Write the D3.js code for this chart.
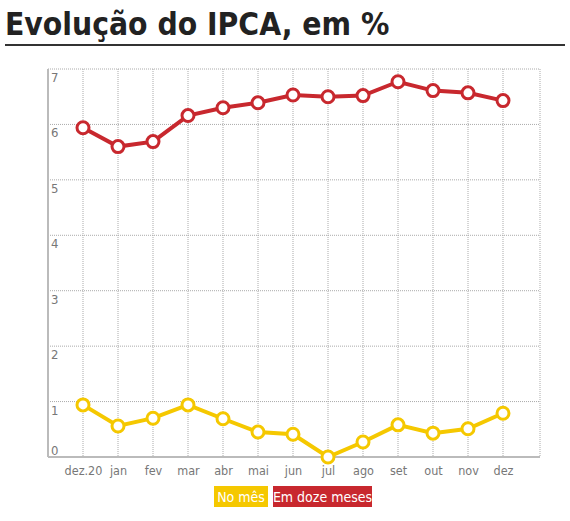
<!DOCTYPE html><html><head><meta charset="utf-8">
<script src="https://d3js.org/d3.v7.min.js"></script>
<style>body{margin:0;background:#fff}</style></head><body>
<svg id="c" width="570" height="521"></svg>
<script>
const categories=["dez.20","jan","fev","mar","abr","mai","jun","jul","ago","set","out","nov","dez"];
const noMes=[0.94,0.56,0.70,0.94,0.69,0.45,0.41,0.0,0.27,0.58,0.43,0.51,0.79];
const dozeMeses=[5.94,5.60,5.69,6.16,6.30,6.39,6.53,6.50,6.52,6.77,6.61,6.57,6.43];
const yTicks=[0,1,2,3,4,5,6,7];
const svg=d3.select("#c");
const font="'DejaVu Sans Condensed','Open Sans',sans-serif";
svg.append("text").attr("x",5).attr("y",35).text("Evolução do IPCA, em %")
 .attr("font-family",font).attr("font-weight","bold").attr("font-size",31.5).attr("fill","#222");
svg.append("line").attr("x1",5).attr("x2",565).attr("y1",45).attr("y2",45).attr("stroke","#333").attr("stroke-width",2);
const L=48,R=540,T=69,B=457;
const x=d3.scalePoint().domain(categories).range([83,503]);
const y=d3.scaleLinear().domain([0,7]).range([B,T]);
const g=svg.append("g");
yTicks.forEach(t=>{g.append("line").attr("x1",L).attr("x2",R).attr("y1",y(t)).attr("y2",y(t)).attr("stroke","#aaa").attr("stroke-dasharray","1,1");
 g.append("text").attr("x",L+3).attr("y",y(t)+(t==0?-2:13)).text(t).attr("font-family",font).attr("font-size",13).attr("fill","#777");});
categories.forEach(c=>g.append("line").attr("x1",x(c)).attr("x2",x(c)).attr("y1",T).attr("y2",B).attr("stroke","#aaa").attr("stroke-dasharray","1,1"));
g.append("line").attr("x1",R).attr("x2",R).attr("y1",T).attr("y2",B).attr("stroke","#aaa").attr("stroke-dasharray","1,1");
g.append("line").attr("x1",L).attr("x2",L).attr("y1",T).attr("y2",B).attr("stroke","#bbb").attr("stroke-width",2);
g.append("line").attr("x1",L).attr("x2",R).attr("y1",B).attr("y2",B).attr("stroke","#bbb").attr("stroke-width",2);
const xa=svg.append("g").attr("transform",`translate(0,${B})`).call(d3.axisBottom(x).tickSize(0).tickPadding(9));
xa.select(".domain").remove();
xa.selectAll("text").attr("font-family",font).attr("font-size",12.5).attr("fill","#777");
function series(vals,col){
 const line=d3.line().x((d,i)=>x(categories[i])).y(d=>y(d));
 svg.append("path").attr("d",line(vals)).attr("fill","none").attr("stroke",col).attr("stroke-width",4);
 svg.selectAll(null).data(vals).enter().append("circle").attr("cx",(d,i)=>x(categories[i])).attr("cy",d=>y(d))
  .attr("r",6).attr("fill","#fff").attr("stroke",col).attr("stroke-width",3);
}
series(noMes,"#f5c800");
series(dozeMeses,"#c8282e");
const leg=[["No mês","#f5c800",214,54],["Em doze meses","#c8282e",273,99]];
leg.forEach(([t,c,lx,w])=>{svg.append("rect").attr("x",lx).attr("y",486).attr("width",w).attr("height",21).attr("fill",c);
 svg.append("text").attr("x",lx+w/2).attr("y",502).attr("text-anchor","middle").text(t).attr("font-family",font).attr("font-size",14).attr("fill","#fff");});
</script></body></html>
